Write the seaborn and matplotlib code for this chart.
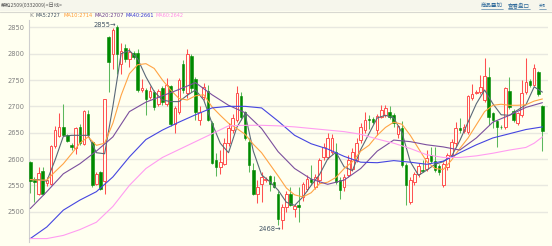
import numpy as np
import pandas as pd
import matplotlib
matplotlib.use("Agg")
import matplotlib.pyplot as plt
import seaborn as sns
from matplotlib.patches import Rectangle
from matplotlib.lines import Line2D

# ---------------- data ----------------
opens = [2595, 2561, 2534, 2577, 2555, 2553, 2624, 2644, 2661, 2645, 2626, 2620, 2661, 2629, 2686, 2633,
         2553, 2576, 2558, 2831, 2800, 2850, 2781, 2810, 2789, 2802, 2801, 2731, 2731, 2718, 2728, 2705,
         2734, 2705, 2738, 2666, 2690, 2780, 2725, 2795, 2751, 2674, 2718, 2730, 2668, 2599, 2585, 2591,
         2630, 2655, 2674, 2720, 2690, 2633, 2579, 2534, 2553, 2560, 2567, 2557, 2534, 2484, 2509, 2534,
         2506, 2513, 2528, 2544, 2563, 2547, 2560, 2603, 2604, 2614, 2614, 2561, 2547, 2569, 2582, 2598,
         2636, 2655, 2676, 2676, 2655, 2680, 2683, 2690, 2684, 2648, 2658, 2588, 2519, 2557, 2571, 2580,
         2582, 2607, 2597, 2586, 2550, 2585, 2607, 2630, 2659, 2653, 2652, 2715, 2726, 2728, 2712, 2756,
         2688, 2672, 2661, 2661, 2730, 2692, 2668, 2683, 2728, 2749, 2740, 2765, 2700]
highs = [2597, 2566, 2585, 2585, 2565, 2626, 2662, 2688, 2705, 2648, 2630, 2660, 2666, 2694, 2694, 2635,
         2575, 2578, 2714, 2833, 2848, 2855, 2820, 2818, 2810, 2806, 2808, 2751, 2735, 2738, 2731, 2732,
         2738, 2753, 2741, 2700, 2754, 2788, 2808, 2800, 2755, 2700, 2745, 2740, 2672, 2611, 2617, 2640,
         2668, 2686, 2738, 2728, 2692, 2640, 2592, 2560, 2575, 2565, 2570, 2567, 2540, 2515, 2540, 2546,
         2515, 2547, 2557, 2570, 2588, 2572, 2602, 2630, 2650, 2648, 2630, 2565, 2572, 2608, 2620, 2640,
         2668, 2690, 2683, 2680, 2685, 2702, 2703, 2700, 2688, 2665, 2672, 2592, 2565, 2576, 2592, 2598,
         2618, 2623, 2623, 2590, 2595, 2612, 2638, 2670, 2677, 2666, 2722, 2743, 2731, 2759, 2791, 2775,
         2690, 2675, 2665, 2737, 2756, 2695, 2690, 2750, 2792, 2752, 2781, 2768, 2703]
lows = [2535, 2518, 2531, 2531, 2548, 2550, 2620, 2642, 2643, 2632, 2618, 2610, 2627, 2627, 2643, 2547,
        2551, 2542, 2534, 2728, 2770, 2762, 2762, 2785, 2775, 2790, 2728, 2728, 2683, 2714, 2693, 2700,
        2702, 2700, 2663, 2650, 2686, 2725, 2715, 2728, 2674, 2665, 2712, 2672, 2590, 2567, 2572, 2588,
        2625, 2650, 2671, 2675, 2637, 2575, 2531, 2517, 2518, 2556, 2540, 2545, 2475, 2468, 2500, 2510,
        2490, 2480, 2520, 2540, 2550, 2543, 2555, 2598, 2600, 2610, 2553, 2525, 2540, 2565, 2578, 2595,
        2630, 2650, 2657, 2666, 2645, 2678, 2680, 2676, 2660, 2640, 2585, 2512, 2514, 2550, 2566, 2575,
        2578, 2593, 2576, 2570, 2547, 2580, 2603, 2625, 2650, 2650, 2648, 2712, 2724, 2724, 2708, 2665,
        2659, 2623, 2657, 2657, 2695, 2670, 2664, 2680, 2724, 2737, 2738, 2720, 2616]
closes = [2558, 2557, 2574, 2534, 2560, 2624, 2655, 2661, 2645, 2634, 2623, 2658, 2631, 2692, 2645, 2550,
          2571, 2544, 2713, 2785, 2845, 2800, 2806, 2789, 2804, 2794, 2731, 2734, 2714, 2730, 2698, 2730,
          2709, 2740, 2666, 2696, 2750, 2731, 2800, 2734, 2690, 2690, 2737, 2674, 2593, 2585, 2595, 2631,
          2658, 2677, 2725, 2680, 2639, 2588, 2534, 2547, 2565, 2561, 2553, 2547, 2487, 2509, 2534, 2512,
          2510, 2509, 2553, 2563, 2557, 2566, 2598, 2623, 2639, 2639, 2557, 2541, 2566, 2598, 2614, 2630,
          2661, 2675, 2674, 2671, 2681, 2694, 2697, 2679, 2669, 2662, 2588, 2550, 2560, 2572, 2586, 2578,
          2601, 2597, 2579, 2576, 2591, 2607, 2633, 2658, 2655, 2661, 2720, 2723, 2728, 2737, 2757, 2680,
          2674, 2660, 2660, 2734, 2699, 2674, 2687, 2725, 2747, 2740, 2772, 2723, 2654]

ma_fast_idx = list(range(0, 125, 2))
ma5 = [2561, 2561, 2558, 2598, 2643, 2645, 2645, 2645, 2612, 2610, 2700, 2800, 2806, 2790, 2756, 2728,
       2712, 2709, 2709, 2721, 2731, 2712, 2668, 2630, 2612, 2660, 2686, 2615, 2570, 2557, 2541, 2518,
       2512, 2528, 2550, 2570, 2600, 2613, 2585, 2578, 2618, 2648, 2678, 2683, 2678, 2650, 2595, 2569,
       2579, 2590, 2595, 2605, 2635, 2670, 2705, 2731, 2705, 2684, 2683, 2693, 2703, 2737, 2727]
ma10 = [2561, 2560, 2560, 2576, 2591, 2610, 2630, 2642, 2626, 2630, 2668, 2721, 2762, 2779, 2781, 2772,
        2750, 2731, 2715, 2712, 2720, 2722, 2699, 2683, 2668, 2658, 2647, 2628, 2612, 2590, 2568, 2545,
        2532, 2528, 2536, 2553, 2556, 2565, 2582, 2595, 2615, 2626, 2645, 2660, 2670, 2666, 2645, 2620,
        2595, 2582, 2580, 2598, 2620, 2640, 2665, 2690, 2702, 2704, 2702, 2702, 2703, 2710, 2714]

ma_slow_idx = list(range(0, 125, 4))
ma20 = [2506, 2538, 2572, 2591, 2615, 2642, 2690, 2708, 2720, 2732, 2745, 2722, 2702, 2688, 2658, 2614,
        2582, 2562, 2552, 2560, 2582, 2615, 2636, 2633, 2627, 2623, 2617, 2640, 2670, 2683, 2698, 2707]
ma40 = [2449, 2471, 2503, 2522, 2538, 2566, 2604, 2637, 2655, 2670, 2684, 2697, 2700, 2700, 2697, 2672,
        2645, 2629, 2619, 2605, 2594, 2593, 2597, 2594, 2590, 2596, 2612, 2627, 2640, 2648, 2656, 2661]
ma60_idx = list(range(0, 121, 4)) + [122, 124]
ma60 = [2449, 2449, 2455, 2466, 2480, 2510, 2550, 2582, 2603, 2618, 2633, 2648, 2663, 2664, 2664, 2663,
        2661, 2658, 2655, 2652, 2647, 2638, 2630, 2620, 2608, 2603, 2603, 2606, 2611, 2617, 2622, 2630, 2642]

yticks = [2500, 2550, 2600, 2650, 2700, 2750, 2800, 2850]
legend_items = ["MA5:2727", "MA10:2714", "MA20:2707", "MA40:2661", "MA60:2642"]
title_text = "菜粕2509(0332009)<日线>"
links = ["商品叠加", "查看盘口", "关闭"]
high_label, high_idx = "2855", 21
low_label, low_idx = "2468", 61

# ---------------- style ----------------
BG = "#fffff0"
HEAD = "#f6f6ec"
RED = "#ff5050"
GREEN = "#008a00"
GREEN_WICK = "#5cb85c"
MA_COLORS = ["#5a6878", "#ffa445", "#7b4f9d", "#4545e0", "#ff9cf0"]
LEG_COLORS = ["#3d4d5d", "#ff9a30", "#6a3d8d", "#3535d0", "#ff8ce8"]

sns.set_theme(style="white")
plt.rcParams["font.family"] = ["DejaVu Sans", "Noto Sans CJK SC"]
CJK = ["Noto Sans CJK SC", "DejaVu Sans"]

W, H = 552, 246
fig = plt.figure(figsize=(W / 100, H / 100), dpi=100)
fig.patch.set_facecolor(BG)
renderer = fig.canvas.get_renderer()


def fx(px):
    return px / W


def fy(py):
    return 1 - py / H


def fit_text(x0, y0, s, width_px, color, family=None, base=6.0):
    kw = {"family": family} if family else {}
    t = fig.text(fx(x0), fy(y0), s, fontsize=base, color=color,
                 va="center", ha="left", **kw)
    bb = t.get_window_extent(renderer)
    t.set_fontsize(base * width_px / bb.width)
    return t


# header band
fig.add_artist(Rectangle((0, fy(11)), 1, 11 / H, transform=fig.transFigure,
                         facecolor=HEAD, edgecolor="none", zorder=0))
fig.add_artist(Line2D([0, 1], [fy(11.5), fy(11.5)], transform=fig.transFigure,
                      color="#d8d8d0", lw=0.8))
fit_text(1, 5.5, title_text, 62, "#555555", family=CJK)
link_spans = [(481, 503), (508, 530), (539, 546)]
for txt, (a, b) in zip(links, link_spans):
    fit_text(a, 5.2, txt, b - a, "#2f6a9a", family=CJK)
    fig.add_artist(Line2D([fx(a), fx(b)], [fy(9.2), fy(9.2)], transform=fig.transFigure,
                          color="#2f6a9a", lw=0.4))

# main axes
ax = fig.add_axes([fx(29), 1 - 242 / H, (548 - 29) / W, (242 - 20) / H])
ax.set_facecolor(BG)
ax.set_xlim(-0.31, 125.35)
ax.set_ylim(2442.5, 2863.9)

idx = np.arange(len(opens))
o = np.array(opens, float)
c = np.array(closes, float)
h = np.array(highs, float)
l = np.array(lows, float)
up = c >= o
bot = np.minimum(o, c)
bh = np.maximum(np.abs(c - o), 1.2)
w = 0.62

ax.vlines(idx[up], l[up], h[up], color=RED, lw=0.75, zorder=2)
ax.vlines(idx[~up], l[~up], h[~up], color=GREEN_WICK, lw=0.75, zorder=2)
ax.bar(idx[up], bh[up], bottom=bot[up], width=w, facecolor=BG, edgecolor=RED,
       linewidth=0.7, zorder=3)
ax.bar(idx[~up], bh[~up], bottom=bot[~up], width=w, color=GREEN, edgecolor=GREEN,
       linewidth=0.4, zorder=3)

series = [(ma_fast_idx, ma5), (ma_fast_idx, ma10), (ma_slow_idx, ma20),
          (ma_slow_idx, ma40), (ma60_idx, ma60)]
for (xi, yv), col in zip(series, MA_COLORS):
    df = pd.DataFrame({"i": xi, "v": yv})
    sns.lineplot(data=df, x="i", y="v", ax=ax, color=col, lw=0.8, zorder=4)

# high / low markers
ax.text(high_idx - 0.3, 2855, high_label + "\u2192", ha="right", va="center",
        fontsize=4.8, color="#445566", zorder=5)
ax.text(low_idx - 0.3, 2468, low_label + "\u2192", ha="right", va="center",
        fontsize=4.8, color="#445566", zorder=5)

# axes styling
ax.set_yticks(yticks)
ax.set_yticklabels([str(v) for v in yticks])
ax.set_xticks([])
ax.set_xlabel("")
ax.set_ylabel("")
ax.grid(axis="y", color="#e8e8e0", lw=1.0, zorder=0)
ax.grid(axis="x", visible=False)
ax.set_axisbelow(True)
for s in ["top", "right", "bottom"]:
    ax.spines[s].set_visible(False)
ax.spines["left"].set_color("#cfcfcf")
ax.spines["left"].set_linewidth(0.8)
ax.tick_params(axis="y", length=0, pad=3, labelsize=4.8, labelcolor="#808080")

# legend row
fit_text(29.5, 15.5, "K", 4, "#888888")
leg_spans = [(36, 60.5), (63.5, 92.5), (94.5, 123.5), (125.5, 154), (156, 184)]
for txt, col, (a, b) in zip(legend_items, LEG_COLORS, leg_spans):
    fit_text(a, 15.5, txt, b - a, col)

fig.savefig("out.png", dpi=100, facecolor=BG)
